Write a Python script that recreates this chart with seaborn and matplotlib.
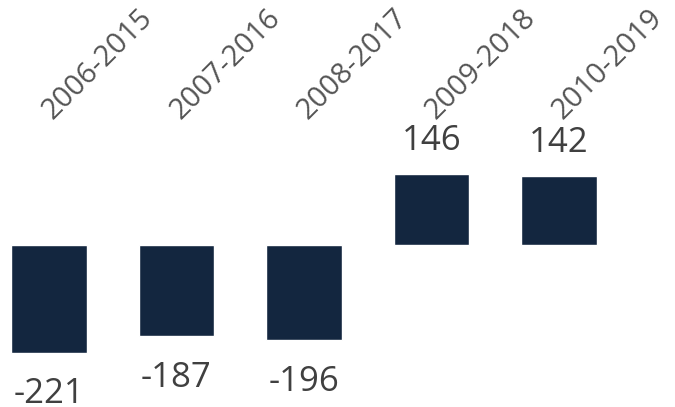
import numpy as np
import pandas as pd
import seaborn as sns
import matplotlib.pyplot as plt
from matplotlib.transforms import blended_transform_factory

periods = ['2006-2015', '2007-2016', '2008-2017', '2009-2018', '2010-2019']
values = [-221, -187, -196, 146, 142]

df = pd.DataFrame({'period': periods, 'value': values})

sns.set_style('white')
plt.rcParams['font.family'] = ['Open Sans', 'DejaVu Sans']

fig = plt.figure(figsize=(6.75, 4.07), dpi=100)
ax = fig.add_axes([0, 0, 1, 1])
sns.barplot(data=df, x='period', y='value', order=periods, color='#13263f',
            saturation=1, width=0.59, ax=ax)

ax.set_xlim(-0.384, 4.91)
ax.set_ylim(-332.6, 503)
ax.axis('off')

# value labels above / below each bar
for i, v in enumerate(values):
    off = 17.5 if v > 0 else -36.5
    ax.annotate(str(v), (i, v), xytext=(0, off), textcoords='offset points',
                ha='center', va='baseline', fontsize=25, color='#404040')

# rotated period labels across the top
trans = blended_transform_factory(ax.transData, ax.transAxes)
for i, p in enumerate(periods):
    ax.text(i + 0.03, 1 - 120 / 407, p, transform=trans, rotation=45,
            rotation_mode='anchor', ha='left', va='baseline',
            fontsize=21, color='#555555', fontweight='medium')

fig.savefig('out.png', dpi=100)
